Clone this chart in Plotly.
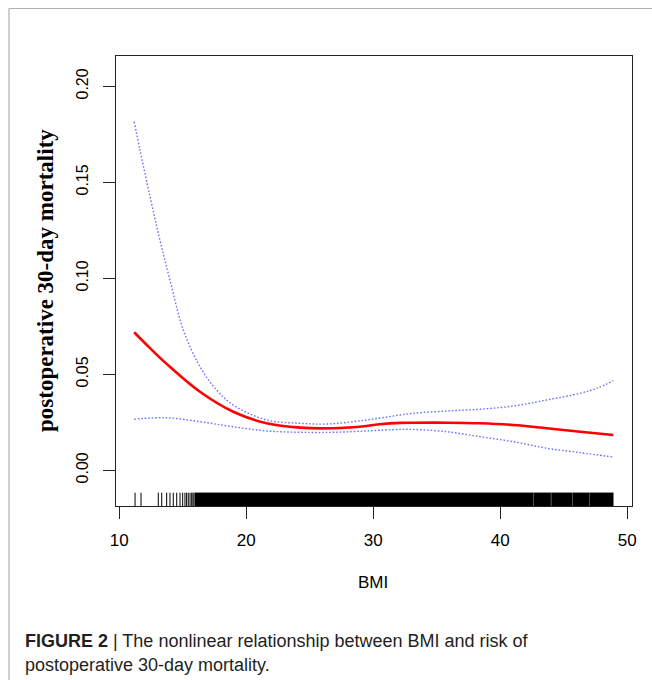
import plotly.graph_objects as go

# ---------------- data ----------------
bmi_fit = [11.17, 12.42, 13.68, 16.35, 18.97, 21.6, 24.23, 26.85, 29.47, 30.52,
           32.1, 33.15, 35.78, 38.4, 41.03, 43.65, 46.28, 48.9]
risk_fit = [0.0719, 0.0636, 0.0557, 0.0409, 0.0305, 0.0245, 0.0222, 0.0219, 0.0231, 0.0240,
            0.0247, 0.0248, 0.0248, 0.0245, 0.0236, 0.0219, 0.0201, 0.0184]

bmi_upper = [11.17, 11.63, 12.42, 13.2, 13.99, 15.04, 16.35, 17.66, 18.97, 21.6, 24.23,
             26.33, 29.47, 32.1, 33.15, 35.78, 38.4, 41.03, 43.65, 46.28, 47.6, 48.9]
risk_upper = [0.1816, 0.1668, 0.1425, 0.1199, 0.0991, 0.0731, 0.0540, 0.0418, 0.0340, 0.0262, 0.0245,
              0.0241, 0.0262, 0.0288, 0.0297, 0.0309, 0.0318, 0.0335, 0.0366, 0.0401, 0.0427, 0.0467]

bmi_lower = [11.17, 13.68, 16.35, 18.97, 21.6, 24.23, 26.85, 29.47, 32.1, 33.15,
             35.78, 38.4, 41.03, 43.65, 46.28, 48.9]
risk_lower = [0.0266, 0.0274, 0.0253, 0.0227, 0.0205, 0.0198, 0.0198, 0.0205, 0.0213, 0.0213,
              0.0201, 0.0175, 0.0149, 0.0115, 0.0092, 0.0069]

# individual rug ticks (sparse region) and dense rug segments
rug_bmi = [11.24, 11.71, 13.07, 13.34, 13.73, 13.99, 14.25, 14.52, 14.78, 14.99, 15.17,
           15.3, 15.43, 15.57, 15.7, 15.8, 15.88]
rug_dense_start = [15.95, 42.62, 44.02, 45.72, 47.02]
rug_dense_end = [42.58, 43.98, 45.68, 46.98, 48.9]

x_ticks = [10, 20, 30, 40, 50]
x_tick_labels = ["10", "20", "30", "40", "50"]
y_ticks = [0.0, 0.05, 0.10, 0.15, 0.20]
y_tick_labels = ["0.00", "0.05", "0.10", "0.15", "0.20"]

x_title = "BMI"
y_title = "<b>postoperative 30-day mortality</b>"
caption_line1 = "<b>FIGURE 2</b> | The nonlinear relationship between BMI and risk of"
caption_line2 = "postoperative 30-day mortality."

# ---------------- layout geometry ----------------
W, H = 652, 680
ML, MR, MT, MB = 116, 20, 56, 174
PW, PH = W - ML - MR, H - MT - MB
X_RANGE = [9.74, 50.37]
Y_RANGE = [-0.0186, 0.2158]
RUG_TOP = -0.01167


def px_x(p):
    return (p - ML) / PW


def px_y(p):
    return (H - MB - p) / PH


fig = go.Figure()

# rug: individual ticks
rx, ry = [], []
for v in rug_bmi:
    rx += [v, v, None]
    ry += [Y_RANGE[0], RUG_TOP, None]
fig.add_trace(go.Scatter(x=rx, y=ry, mode="lines", line=dict(color="black", width=1),
                         hoverinfo="skip", showlegend=False))

# rug: dense segments
dx, dy = [], []
for a, b in zip(rug_dense_start, rug_dense_end):
    dx += [a, b, b, a, a, None]
    dy += [Y_RANGE[0], Y_RANGE[0], RUG_TOP, RUG_TOP, Y_RANGE[0], None]
fig.add_trace(go.Scatter(x=dx, y=dy, mode="lines", fill="toself", fillcolor="black",
                         line=dict(color="black", width=0.3), hoverinfo="skip", showlegend=False))

dot_style = dict(color="#7070ff", width=1.4, dash="1.6px,1.9px", shape="spline", smoothing=1.0)
fig.add_trace(go.Scatter(x=bmi_upper, y=risk_upper, mode="lines", line=dot_style, showlegend=False))
fig.add_trace(go.Scatter(x=bmi_lower, y=risk_lower, mode="lines", line=dot_style, showlegend=False))
fig.add_trace(go.Scatter(x=bmi_fit, y=risk_fit, mode="lines",
                         line=dict(color="#ff0000", width=2.6, shape="spline", smoothing=1.0),
                         showlegend=False))

fig.update_layout(
    width=W, height=H,
    margin=dict(l=ML, r=MR, t=MT, b=MB, pad=0),
    paper_bgcolor="white", plot_bgcolor="white",
    showlegend=False,
    xaxis=dict(range=X_RANGE, tickvals=x_ticks, ticktext=x_tick_labels,
               showgrid=False, zeroline=False, showline=True, linecolor="#222", linewidth=1.3,
               mirror=True, ticks="outside", ticklen=12, tickwidth=1.3, tickcolor="#222",
               tickfont=dict(family="Liberation Sans", size=17, color="black"),
               ticklabelstandoff=6),
    yaxis=dict(range=Y_RANGE, tickvals=y_ticks, ticktext=y_tick_labels, tickangle=-90,
               showgrid=False, zeroline=False, showline=True, linecolor="#222", linewidth=1.3,
               mirror=True, ticks="outside", ticklen=12, tickwidth=1.3, tickcolor="#222",
               tickfont=dict(family="Liberation Sans", size=16, color="black"),
               ticklabelstandoff=8),
)

# outer light-gray frame (top and left edges)
fig.add_shape(type="line", xref="paper", yref="paper",
              x0=px_x(9), x1=px_x(W + 10), y0=px_y(8.5), y1=px_y(8.5),
              line=dict(color="#b0b0b0", width=1.2))
fig.add_shape(type="line", xref="paper", yref="paper",
              x0=px_x(9), x1=px_x(9), y0=px_y(8.5), y1=px_y(H + 10),
              line=dict(color="#b0b0b0", width=1.2))

fig.add_annotation(text=y_title, xref="paper", yref="paper", x=px_x(45), y=0.5,
                   textangle=-90, showarrow=False, xanchor="center", yanchor="middle",
                   font=dict(family="Liberation Serif", size=23, color="black"))
fig.add_annotation(text=x_title, xref="paper", yref="paper", x=px_x(373), y=px_y(582),
                   showarrow=False, xanchor="center", yanchor="middle",
                   font=dict(family="Liberation Sans", size=17, color="black"))
fig.add_annotation(text=caption_line1, xref="paper", yref="paper", x=px_x(23), y=px_y(641),
                   showarrow=False, xanchor="left", yanchor="middle",
                   font=dict(family="Liberation Sans", size=18, color="#231f20"))
fig.add_annotation(text=caption_line2, xref="paper", yref="paper", x=px_x(23), y=px_y(665),
                   showarrow=False, xanchor="left", yanchor="middle",
                   font=dict(family="Liberation Sans", size=18, color="#231f20"))

fig.write_html("out.html", config={"displayModeBar": False},
               post_script="document.body.style.margin='0px';document.body.style.overflow='hidden';")
